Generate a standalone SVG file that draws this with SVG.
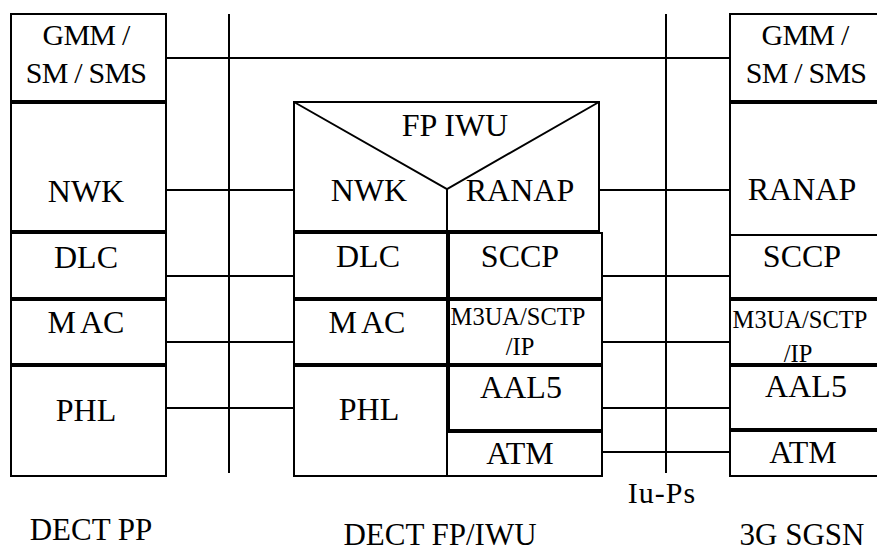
<svg xmlns="http://www.w3.org/2000/svg" width="877" height="553" viewBox="0 0 877 553">
<style>
.b{fill:#fff;stroke:#000;stroke-width:2}
.c{stroke:#000;stroke-width:2;fill:none}
text{font-family:'Liberation Serif','DejaVu Serif',serif;font-size:32px;fill:#000;text-anchor:middle}
.g{font-size:30px;letter-spacing:-0.8px}
.s{font-size:24.5px}
.t{font-size:31px}
</style>
<rect width="877" height="553" fill="#fff"/>
<g id="connectors">
<line class="c" x1="229" y1="14" x2="229" y2="473"/>
<line class="c" x1="666" y1="14" x2="666" y2="473"/>
<line class="c" x1="163" y1="58" x2="730" y2="58"/>
<line class="c" x1="163" y1="190" x2="294" y2="190"/>
<line class="c" x1="599" y1="190" x2="730" y2="190"/>
<line class="c" x1="163" y1="276" x2="294" y2="276"/>
<line class="c" x1="602" y1="276" x2="730" y2="276"/>
<line class="c" x1="163" y1="342" x2="294" y2="342"/>
<line class="c" x1="602" y1="342" x2="730" y2="342"/>
<line class="c" x1="163" y1="408" x2="294" y2="408"/>
<line class="c" x1="602" y1="408" x2="730" y2="408"/>
<line class="c" x1="602" y1="452" x2="730" y2="452"/>
</g>
<g id="pp">
<rect class="b" x="11" y="14" width="155" height="87"/>
<rect class="b" x="11" y="103" width="155" height="128"/>
<rect class="b" x="11" y="233" width="155" height="65"/>
<rect class="b" x="11" y="300" width="155" height="64"/>
<rect class="b" x="11" y="366" width="155" height="110"/>
<text class="g" x="86" y="45">GMM /</text>
<text class="g" x="86" y="83">SM / SMS</text>
<text x="86" y="202">NWK</text>
<text x="86" y="268">DLC</text>
<text x="86" y="333">M<tspan dx="4">AC</tspan></text>
<text x="86" y="421">PHL</text>
<text class="t" x="91" y="540">DECT PP</text>
</g>
<g id="fp">
<rect class="b" x="294" y="102" width="305" height="129"/>
<polyline class="c" points="294,102 447,189 599,102"/>
<line class="c" x1="447" y1="189" x2="447" y2="476"/>
<rect class="b" x="294" y="233" width="153" height="65"/>
<rect class="b" x="294" y="300" width="153" height="64"/>
<rect class="b" x="294" y="366" width="153" height="110"/>
<rect class="b" x="449" y="233" width="153" height="65"/>
<rect class="b" x="449" y="300" width="153" height="64"/>
<rect class="b" x="449" y="366" width="153" height="64"/>
<rect class="b" x="447" y="432" width="155" height="44"/>
<text x="455" y="136">FP IWU</text>
<text x="369" y="201">NWK</text>
<text x="520" y="201">RANAP</text>
<text x="368" y="267">DLC</text>
<text x="520" y="267">SCCP</text>
<text x="367" y="333">M<tspan dx="4">AC</tspan></text>
<text class="s" x="518" y="325">M3UA/SCTP</text>
<text class="s" x="520" y="355">/IP</text>
<text x="369" y="420">PHL</text>
<text x="521" y="398">AAL5</text>
<text x="520" y="464">ATM</text>
<text class="t" x="440" y="545">DECT FP/IWU</text>
</g>
<g id="sgsn">
<rect class="b" x="730" y="14" width="170" height="87"/>
<rect class="b" x="730" y="103" width="170" height="132"/>
<rect class="b" x="730" y="235" width="170" height="63"/>
<rect class="b" x="730" y="300" width="170" height="64"/>
<rect class="b" x="730" y="366" width="170" height="63"/>
<rect class="b" x="730" y="431" width="170" height="45"/>
<text class="g" x="805" y="45">GMM /</text>
<text class="g" x="806" y="83">SM / SMS</text>
<text x="802" y="200">RANAP</text>
<text x="802" y="267">SCCP</text>
<text class="s" x="800" y="328">M3UA/SCTP</text>
<text class="s" x="798" y="362">/IP</text>
<text x="806" y="397">AAL5</text>
<text x="803" y="463">ATM</text>
<text class="t" x="802" y="545">3G SGSN</text>
</g>
<text x="662" y="503" style="font-size:30px;letter-spacing:1px">Iu-Ps</text>
</svg>
